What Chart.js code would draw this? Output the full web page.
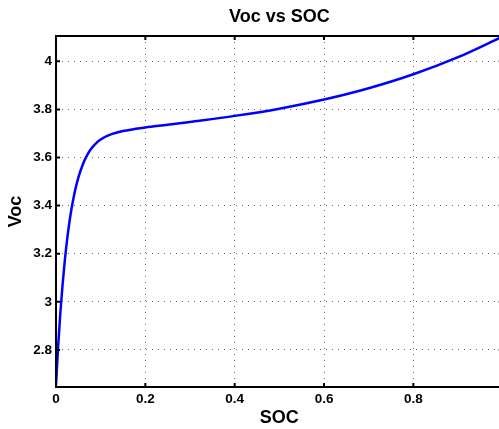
<!DOCTYPE html>
<html>
<head>
<meta charset="utf-8">
<script src="https://cdn.jsdelivr.net/npm/chart.js@4.4.0/dist/chart.umd.min.js"></script>
<style>
  html, body { margin: 0; padding: 0; background: #fff; overflow: hidden; }
  #wrap { position: absolute; left: 0; top: 0; width: 510px; height: 429px; }
</style>
</head>
<body>
<div id="wrap"><canvas id="socChart" width="510" height="429"></canvas></div>
<script>
// state of charge samples (denser near 0 where the curve is steep)
const soc = [0, 0.005, 0.01, 0.015, 0.02, 0.025, 0.03, 0.035, 0.04, 0.045, 0.05,
  0.06, 0.07, 0.08, 0.09, 0.1, 0.12, 0.15, 0.2, 0.25, 0.3, 0.4, 0.5, 0.6, 0.7, 0.8, 0.9, 1.0];
// open-circuit voltage
const voc = [2.654, 2.821, 2.961, 3.078, 3.177, 3.261, 3.331, 3.390, 3.439, 3.481, 3.516,
  3.571, 3.611, 3.639, 3.660, 3.675, 3.694, 3.710, 3.725, 3.736, 3.748, 3.773, 3.803, 3.841, 3.888, 3.946, 4.017, 4.103];

const xTicks = [0, 0.2, 0.4, 0.6, 0.8, 1];
const yTicks = [2.8, 3, 3.2, 3.4, 3.6, 3.8, 4];

const font = 'Liberation Sans, Arial, sans-serif';

// frame + inward tick marks, matlab style
const framePlugin = {
  id: 'frame',
  afterDraw(chart) {
    const { ctx, chartArea: a, scales } = chart;
    ctx.save();
    ctx.strokeStyle = '#000';
    ctx.lineWidth = 2;
    ctx.strokeRect(a.left, a.top, a.right - a.left, a.bottom - a.top);
    const len = 4;
    ctx.beginPath();
    xTicks.forEach(v => {
      const px = scales.x.getPixelForValue(v);
      ctx.moveTo(px, a.bottom); ctx.lineTo(px, a.bottom - len);
      ctx.moveTo(px, a.top); ctx.lineTo(px, a.top + len);
    });
    yTicks.forEach(v => {
      const py = scales.y.getPixelForValue(v);
      ctx.moveTo(a.left, py); ctx.lineTo(a.left + len, py);
      ctx.moveTo(a.right, py); ctx.lineTo(a.right - len, py);
    });
    ctx.stroke();
    ctx.restore();
  }
};

new Chart(document.getElementById('socChart'), {
  type: 'line',
  data: {
    datasets: [{
      data: soc.map((s, i) => ({ x: s, y: voc[i] })),
      borderColor: '#0000ff',
      borderWidth: 2.5,
      pointRadius: 0,
      cubicInterpolationMode: 'monotone',
      fill: false
    }]
  },
  options: {
    responsive: false,
    animation: false,
    layout: { padding: { left: 0, right: 7.3, top: 0, bottom: 0 } },
    plugins: {
      legend: { display: false },
      tooltip: { enabled: false },
      title: {
        display: true,
        fullSize: false,
        text: 'Voc vs SOC',
        color: '#000',
        font: { family: font, size: 18, weight: 'bold', lineHeight: 1.2 },
        padding: { top: 6, bottom: 8.4 }
      }
    },
    scales: {
      x: {
        type: 'linear',
        min: 0,
        max: 1,
        afterFit: s => { s.height = 42; s.paddingLeft = 0; s.paddingRight = 0; },
        afterBuildTicks: s => { s.ticks = xTicks.map(v => ({ value: v })); },
        ticks: {
          color: '#000',
          padding: 4,
          font: { family: font, size: 13.5, weight: 'bold' },
          callback: v => String(v)
        },
        grid: { color: '#6e6e6e', lineWidth: 1, drawTicks: false },
        border: { display: false, dash: [1, 5] },
        title: {
          display: true,
          text: 'SOC',
          color: '#000',
          font: { family: font, size: 18, weight: 'bold', lineHeight: 1.2 },
          padding: { top: 0, bottom: 0 }
        }
      },
      y: {
        type: 'linear',
        min: 2.646,
        max: 4.105,
        afterFit: s => { s.width = 56; },
        afterBuildTicks: s => { s.ticks = yTicks.map(v => ({ value: v })); },
        ticks: {
          color: '#000',
          padding: 4,
          font: { family: font, size: 13.5, weight: 'bold' },
          callback: v => String(Math.round(v * 10) / 10)
        },
        grid: { color: '#6e6e6e', lineWidth: 1, drawTicks: false },
        border: { display: false, dash: [1, 5] },
        title: {
          display: true,
          text: 'Voc',
          color: '#000',
          font: { family: font, size: 18, weight: 'bold', lineHeight: 1.2 },
          padding: { top: 5, bottom: 0 }
        }
      }
    }
  },
  plugins: [framePlugin]
});
</script>
</body>
</html>
